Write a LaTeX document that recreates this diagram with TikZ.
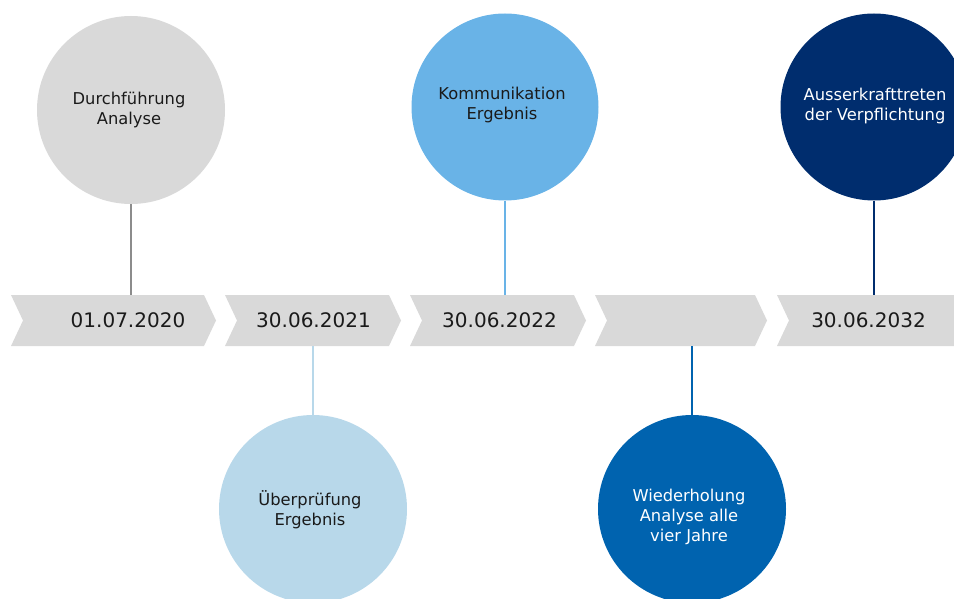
\documentclass[tikz,border=0pt]{standalone}
\usepackage{fontspec}
\setmainfont{DejaVu Sans}
\definecolor{chevgray}{HTML}{D9D9D9}
\definecolor{cgray}{HTML}{D9D9D9}
\definecolor{cpale}{HTML}{B8D8EA}
\definecolor{clight}{HTML}{69B3E7}
\definecolor{cmid}{HTML}{0063AF}
\definecolor{cdark}{HTML}{002D6E}
\definecolor{linegray}{HTML}{8C8C8C}
\definecolor{txt}{HTML}{1A1A1A}
\tikzset{
  chev/.style={fill=chevgray, draw=none},
  datetext/.style={text=txt, font=\fontsize{20}{24}\selectfont, inner sep=0pt, anchor=center},
  circ/.style={circle, minimum size=188pt, inner sep=0pt, draw=none},
  ctext/.style={align=center, font=\fontsize{16.3}{20}\selectfont, inner sep=0pt},
  conn/.style={line width=1.4pt}
}
\begin{document}
\begin{tikzpicture}[x=1pt,y=-1pt]
\useasboundingbox (0,0) rectangle (954,599);
\clip (0,0) rectangle (954,599);
% chevrons
\def\top{295}\def\bot{346}\def\mid{320.5}
\fill[chev] (11,\top) -- (204,\top) -- (216,\mid) -- (204,\bot) -- (11,\bot) -- (23,\mid) -- cycle;
\fill[chev] (225,\top) -- (389,\top) -- (401,\mid) -- (389,\bot) -- (225,\bot) -- (237,\mid) -- cycle;
\fill[chev] (410,\top) -- (574,\top) -- (586,\mid) -- (574,\bot) -- (410,\bot) -- (422,\mid) -- cycle;
\fill[chev] (595,\top) -- (755,\top) -- (767,\mid) -- (755,\bot) -- (595,\bot) -- (607,\mid) -- cycle;
\fill[chev] (777,\top) -- (966,\top) -- (978,\mid) -- (966,\bot) -- (777,\bot) -- (789,\mid) -- cycle;
% chevron attach points
\coordinate (t1) at (131,\top);
\coordinate (b2) at (313,\bot);
\coordinate (t3) at (505,\top);
\coordinate (b4) at (692,\bot);
\coordinate (t5) at (874,\top);
% dates
\node[datetext] (d1) at (128,320.5) {01.07.2020};
\node[datetext] (d2) at (313.5,320.5) {30.06.2021};
\node[datetext] (d3) at (499.5,320.5) {30.06.2022};
\node[datetext] (d5) at (868.5,320.5) {30.06.2032};
% circles
\node[circ, fill=cgray] (c1) at (131,110) {};
\node[circ, fill=cpale] (c2) at (313,509) {};
\node[circ, fill=clight, minimum size=187pt] (c3) at (505,107) {};
\node[circ, fill=cmid] (c4) at (692,509) {};
\node[circ, fill=cdark, minimum size=187pt] (c5) at (874,107) {};
% connectors
\draw[conn, draw=linegray] (c1.south) -- (t1);
\draw[conn, draw=cpale] (c2.north) -- (b2);
\draw[conn, draw=clight] (c3.south) -- (t3);
\draw[conn, draw=cmid] (c4.north) -- (b4);
\draw[conn, draw=cdark] (c5.south) -- (t5);
% circle texts
\node[ctext, text=txt] (x1) at (129,110) {Durchführung\\Analyse};
\node[ctext, text=txt] (x2) at (310,510) {Überprüfung\\Ergebnis};
\node[ctext, text=txt] (x3) at (502,105) {Kommunikation\\Ergebnis};
\node[ctext, text=white] (x4) at (689,517) {Wiederholung\\Analyse alle\\vier Jahre};
\node[ctext, text=white] (x5) at (875,106) {Ausserkrafttreten\\der Verpflichtung};
\end{tikzpicture}
\end{document}
